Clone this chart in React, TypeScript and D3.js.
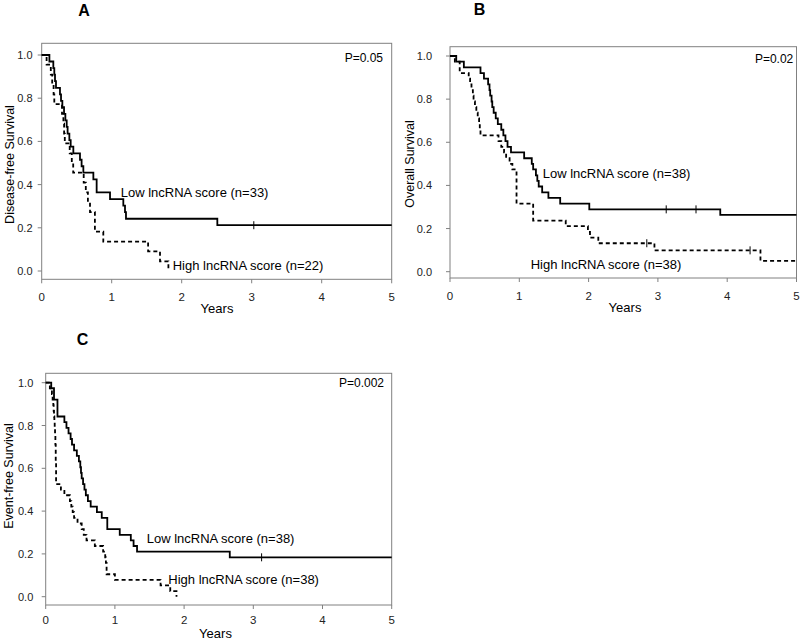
import React from "react";
import * as d3 from "d3";

// ---------- data ----------
const yearTicks = [0, 1, 2, 3, 4, 5];
const survTicks = [0.0, 0.2, 0.4, 0.6, 0.8, 1.0];
const panelLetters = ["A", "B", "C"];
const yTitles = ["Disease-free Survival", "Overall Survival", "Event-free Survival"];
const pValues = ["P=0.05", "P=0.02", "P=0.002"];
const lowLabels = ["Low lncRNA score (n=33)", "Low lncRNA score (n=38)", "Low lncRNA score (n=38)"];
const highLabels = ["High lncRNA score (n=22)", "High lncRNA score (n=38)", "High lncRNA score (n=38)"];

// Panel A
const aLowT = [0.11, 0.166, 0.18, 0.19, 0.204, 0.261, 0.276, 0.295, 0.319, 0.338, 0.357, 0.37, 0.395, 0.414, 0.452, 0.547, 0.57, 0.595, 0.738, 0.785, 0.976, 1.166, 1.19, 1.204, 2.509];
const aLowS = [0.97, 0.939, 0.909, 0.879, 0.848, 0.818, 0.788, 0.758, 0.727, 0.697, 0.667, 0.636, 0.606, 0.576, 0.545, 0.515, 0.485, 0.455, 0.424, 0.364, 0.333, 0.303, 0.273, 0.242, 0.212];
const aLowCensor = [3.03];
const aHighT = [0.07, 0.13, 0.15, 0.17, 0.18, 0.29, 0.31, 0.32, 0.33, 0.4, 0.43, 0.45, 0.6, 0.63, 0.66, 0.69, 0.76, 0.88, 1.52, 1.69, 1.81];
const aHighS = [0.955, 0.909, 0.864, 0.818, 0.773, 0.727, 0.682, 0.636, 0.591, 0.545, 0.5, 0.455, 0.409, 0.364, 0.318, 0.273, 0.182, 0.136, 0.091, 0.045, 0.0];
const aHighCensor: number[] = [];

// Panel B
const bLowT = [0.09, 0.2, 0.44, 0.49, 0.55, 0.57, 0.58, 0.6, 0.61, 0.63, 0.66, 0.69, 0.74, 0.77, 0.8, 0.83, 0.88, 1.07, 1.18, 1.2, 1.24, 1.26, 1.28, 1.33, 1.42, 1.59, 2.01, 3.9];
const bLowS = [0.974, 0.947, 0.921, 0.895, 0.868, 0.842, 0.816, 0.789, 0.763, 0.737, 0.711, 0.684, 0.658, 0.632, 0.605, 0.579, 0.553, 0.526, 0.5, 0.474, 0.447, 0.421, 0.395, 0.368, 0.342, 0.316, 0.289, 0.263];
const bLowCensor = [3.12, 3.55];
const bHighT = [0.07, 0.14, 0.27, 0.29, 0.31, 0.33, 0.34, 0.36, 0.38, 0.4, 0.42, 0.43, 0.44, 0.7, 0.74, 0.78, 0.81, 0.86, 0.9, 0.96, 1.2, 1.67, 1.99, 2.02, 2.14, 2.95, 4.48];
const bHighS = [0.974, 0.921, 0.895, 0.868, 0.842, 0.816, 0.789, 0.763, 0.737, 0.711, 0.684, 0.658, 0.632, 0.605, 0.579, 0.553, 0.526, 0.5, 0.474, 0.316, 0.237, 0.211, 0.184, 0.158, 0.132, 0.099, 0.05];
const bHighCensor = [2.84, 4.33];

// Panel C
const cLowT = [0.08, 0.12, 0.17, 0.27, 0.3, 0.33, 0.36, 0.38, 0.41, 0.45, 0.48, 0.5, 0.51, 0.52, 0.54, 0.56, 0.58, 0.61, 0.65, 0.74, 0.81, 0.89, 1.07, 1.23, 1.27, 1.32, 2.66];
const cLowS = [0.974, 0.921, 0.842, 0.816, 0.789, 0.763, 0.737, 0.711, 0.684, 0.658, 0.632, 0.605, 0.579, 0.553, 0.526, 0.5, 0.474, 0.447, 0.421, 0.395, 0.368, 0.316, 0.289, 0.263, 0.237, 0.211, 0.184];
const cLowCensor = [3.12];
const cHighT = [0.06, 0.09, 0.1, 0.11, 0.115, 0.12, 0.125, 0.13, 0.135, 0.14, 0.145, 0.15, 0.22, 0.27, 0.35, 0.37, 0.39, 0.41, 0.46, 0.52, 0.55, 0.59, 0.71, 0.83, 0.86, 0.87, 0.88, 1.0, 1.66, 1.8, 1.89];
const cHighS = [0.974, 0.947, 0.921, 0.895, 0.868, 0.842, 0.816, 0.789, 0.763, 0.711, 0.632, 0.526, 0.5, 0.474, 0.447, 0.421, 0.395, 0.368, 0.342, 0.316, 0.289, 0.263, 0.237, 0.211, 0.184, 0.158, 0.105, 0.079, 0.053, 0.026, 0.0];
const cHighCensor: number[] = [];

// ---------- layout ----------
type Layout = {
  x0: number; x1: number; top: number; bottom: number; yOne: number; yZero: number;
  tickLabelRight: number; xTickY: number; titleX: number; titleY: number;
  yearsX: number; yearsY: number; letterX: number; letterY: number;
  pX: number; pY: number; lowX: number; lowY: number; highX: number; highY: number;
};
const layouts: Layout[] = [
  { x0: 41.7, x1: 391.7, top: 43.3, bottom: 279.3, yOne: 55, yZero: 271, tickLabelRight: 32.5, xTickY: 297, titleX: 10, titleY: 164.5, yearsX: 217, yearsY: 308, letterX: 84, letterY: 15.5, pX: 383, pY: 57.5, lowX: 120.7, lowY: 192.7, highX: 172.7, highY: 265.7 },
  { x0: 450, x1: 796.5, top: 46.7, bottom: 278, yOne: 56, yZero: 271.7, tickLabelRight: 432, xTickY: 295.5, titleX: 410, titleY: 164, yearsX: 625, yearsY: 307, letterX: 479.5, letterY: 15, pX: 793.3, pY: 59.3, lowX: 542.7, lowY: 173.3, highX: 530.7, highY: 264.3 },
  { x0: 45.7, x1: 391.7, top: 373.3, bottom: 605, yOne: 382.7, yZero: 596.7, tickLabelRight: 33.3, xTickY: 620, titleX: 8.5, titleY: 476, yearsX: 215.5, yearsY: 633, letterX: 82.5, letterY: 345, pX: 384, pY: 383.3, lowX: 146.7, lowY: 538.3, highX: 168.3, highY: 579.3 },
];

const panelSeries = [
  { lowT: aLowT, lowS: aLowS, lowC: aLowCensor, highT: aHighT, highS: aHighS, highC: aHighCensor },
  { lowT: bLowT, lowS: bLowS, lowC: bLowCensor, highT: bHighT, highS: bHighS, highC: bHighCensor },
  { lowT: cLowT, lowS: cLowS, lowC: cLowCensor, highT: cHighT, highS: cHighS, highC: cHighCensor },
];

const FONT = "'Liberation Sans', Arial, sans-serif";
const AXIS_GREY = "#808080";
const TEXT = "#222";

function stepPoints(times: number[], survs: number[]): [number, number][] {
  const pts: [number, number][] = [[0, 1]];
  times.forEach((t, i) => pts.push([t, survs[i]]));
  const last = survs[survs.length - 1];
  if (last > 0) pts.push([5, last]);
  return pts;
}

function survAt(times: number[], survs: number[], t: number): number {
  let s = 1;
  times.forEach((tt, i) => { if (tt <= t) s = survs[i]; });
  return s;
}

function Panel({ idx }: { idx: number }) {
  const L = layouts[idx];
  const S = panelSeries[idx];
  const x = d3.scaleLinear().domain([0, 5]).range([L.x0, L.x1]);
  const y = d3.scaleLinear().domain([0, 1]).range([L.yZero, L.yOne]);
  const line = d3.line<[number, number]>().x((d) => x(d[0])).y((d) => y(d[1])).curve(d3.curveStepAfter);
  const lowPath = line(stepPoints(S.lowT, S.lowS)) || "";
  const highPath = line(stepPoints(S.highT, S.highS)) || "";

  return (
    <g>
      <rect x={L.x0} y={L.top} width={L.x1 - L.x0} height={L.bottom - L.top} fill="none" stroke={AXIS_GREY} strokeWidth={1} />
      {survTicks.map((v) => (
        <g key={"y" + v}>
          <line x1={L.x0 - 4} x2={L.x0} y1={y(v)} y2={y(v)} stroke={AXIS_GREY} />
          <text x={L.tickLabelRight} y={y(v)} textAnchor="end" dominantBaseline="central" fontSize={11} fill={TEXT} fontFamily={FONT}>{v.toFixed(1)}</text>
        </g>
      ))}
      {yearTicks.map((v) => (
        <g key={"x" + v}>
          <line x1={x(v)} x2={x(v)} y1={L.bottom} y2={L.bottom + 4} stroke={AXIS_GREY} />
          <text x={x(v)} y={L.xTickY} textAnchor="middle" dominantBaseline="central" fontSize={11.5} fill={TEXT} fontFamily={FONT}>{v}</text>
        </g>
      ))}
      <path d={lowPath} fill="none" stroke="#000" strokeWidth={1.8} />
      <path d={highPath} fill="none" stroke="#000" strokeWidth={1.8} strokeDasharray="4,3" />
      {S.lowC.map((t) => (
        <line key={"lc" + t} x1={x(t)} x2={x(t)} y1={y(survAt(S.lowT, S.lowS, t)) - 4} y2={y(survAt(S.lowT, S.lowS, t)) + 4} stroke="#000" strokeWidth={1} />
      ))}
      {S.highC.map((t) => (
        <line key={"hc" + t} x1={x(t)} x2={x(t)} y1={y(survAt(S.highT, S.highS, t)) - 4} y2={y(survAt(S.highT, S.highS, t)) + 4} stroke="#000" strokeWidth={1} />
      ))}
      <text x={L.pX} y={L.pY} textAnchor="end" dominantBaseline="central" fontSize={12} fill="#000" fontFamily={FONT}>{pValues[idx]}</text>
      <text x={L.lowX} y={L.lowY} dominantBaseline="central" fontSize={13} fill="#000" fontFamily={FONT}>{lowLabels[idx]}</text>
      <text x={L.highX} y={L.highY} dominantBaseline="central" fontSize={13} fill="#000" fontFamily={FONT}>{highLabels[idx]}</text>
      <text x={L.yearsX} y={L.yearsY} textAnchor="middle" dominantBaseline="central" fontSize={13} fill="#000" fontFamily={FONT}>Years</text>
      <text transform={`translate(${L.titleX},${L.titleY}) rotate(-90)`} textAnchor="middle" dominantBaseline="central" fontSize={12.5} fill="#000" fontFamily={FONT}>{yTitles[idx]}</text>
      <text x={L.letterX} y={L.letterY} textAnchor="middle" fontSize={16} fontWeight="bold" fill="#000" fontFamily={FONT}>{panelLetters[idx]}</text>
    </g>
  );
}

export default function App() {
  return (
    <div style={{ position: "absolute", left: 0, top: 0 }}>
      <svg width={800} height={639} viewBox="0 0 800 639" style={{ display: "block", background: "#fff" }}>
        <rect x={0} y={0} width={800} height={639} fill="#fff" />
        {[0, 1, 2].map((i) => (
          <Panel key={i} idx={i} />
        ))}
      </svg>
    </div>
  );
}
